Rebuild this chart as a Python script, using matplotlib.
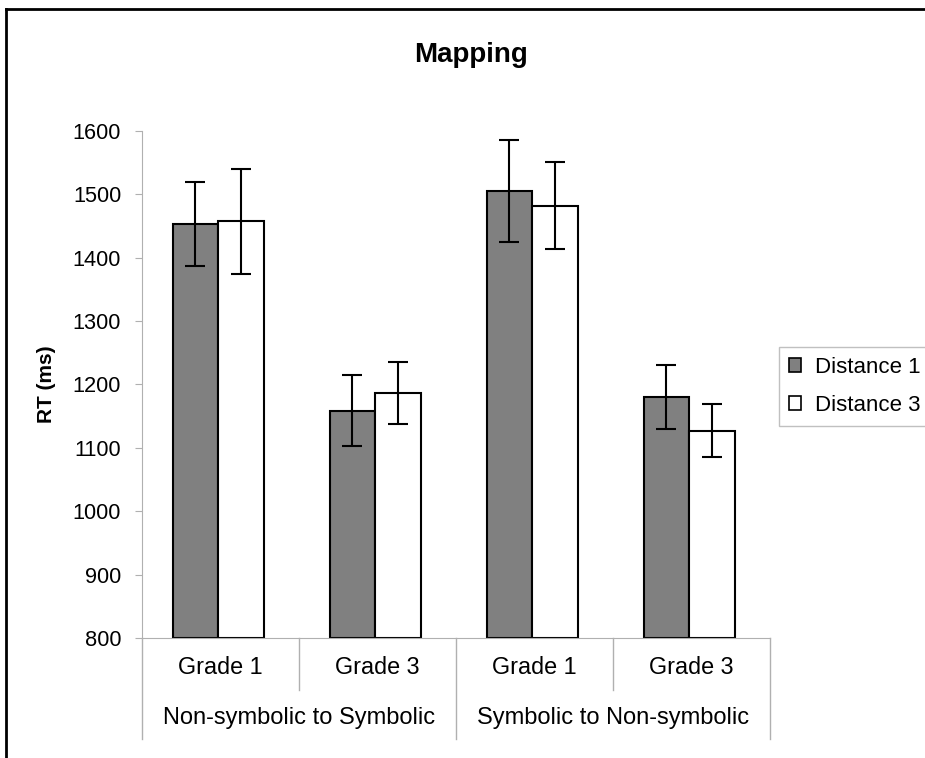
import matplotlib
matplotlib.use("Agg")
import matplotlib.pyplot as plt
from matplotlib.lines import Line2D
from matplotlib.patches import Patch
import numpy as np

plt.rcParams['font.family'] = ['Liberation Sans', 'DejaVu Sans']

# Data
grades = ["Grade 1", "Grade 3", "Grade 1", "Grade 3"]
directions = ["Non-symbolic to Symbolic", "Symbolic to Non-symbolic"]
series_names = ["Distance 1", "Distance 3"]
distance1 = [1453, 1158, 1505, 1180]
distance3 = [1457, 1187, 1482, 1127]
distance1_err = [66, 56, 81, 50]
distance3_err = [83, 49, 68, 42]
yticks = [800, 900, 1000, 1100, 1200, 1300, 1400, 1500, 1600]

W, H = 925, 758
fig = plt.figure(figsize=(W / 100, H / 100), dpi=100)

def fx(px):
    return px / W

def fy(py):
    return 1 - py / H

ax_l, ax_r, ax_b, ax_t = 142, 770, 638, 130.7
ax = fig.add_axes([fx(ax_l), fy(ax_b), fx(ax_r) - fx(ax_l), fy(ax_t) - fy(ax_b)])

x = np.arange(len(grades))
bw = 0.29
off = 0.145
err_kw = dict(ecolor="black", elinewidth=1.5, capsize=7, capthick=1.5)
ax.bar(x - off - 0.015, np.array(distance1) - 800, bw, bottom=800, color="#808080",
       edgecolor="black", linewidth=1.5, yerr=distance1_err, error_kw=err_kw, zorder=2)
ax.bar(x + off - 0.015, np.array(distance3) - 800, bw, bottom=800, color="white",
       edgecolor="black", linewidth=1.5, yerr=distance3_err, error_kw=err_kw, zorder=2)

ax.set_xlim(-0.5, len(grades) - 0.5)
ax.set_ylim(800, 1600)
ax.set_yticks(yticks)
ax.set_yticklabels([str(v) for v in yticks], fontsize=15.7)
ax.tick_params(axis="y", direction="out", length=5, color="#b0b0b0", pad=10)
ax.set_xticks([])
for s in ["top", "right"]:
    ax.spines[s].set_visible(False)
ax.spines["left"].set_color("#b0b0b0")
ax.spines["bottom"].set_color("#b0b0b0")

# Category axis: grade labels, direction labels and divider lines
trans = ax.get_xaxis_transform()
span = ax_b - ax_t

def depth(py):
    return -(py - ax_b) / span

for i, g in enumerate(grades):
    ax.text(i, depth(667), g, transform=trans, ha="center", va="center", fontsize=16.8)
for j, d in enumerate(directions):
    ax.text(2 * j + 0.5, depth(718), d, transform=trans,
            ha="center", va="center", fontsize=17)
for xb in [0.5, 2.5]:
    ax.add_line(Line2D([xb, xb], [0, depth(690)], transform=trans, color="#b0b0b0",
                       linewidth=1, clip_on=False))
for xb in [-0.5, 1.5, 3.5]:
    ax.add_line(Line2D([xb, xb], [0, depth(739)], transform=trans, color="#b0b0b0",
                       linewidth=1, clip_on=False))

ax.set_ylabel("RT (ms)", fontsize=15, fontweight="bold", labelpad=12)
fig.text(fx(471), fy(55), "Mapping", ha="center", va="center",
         fontsize=20, fontweight="bold")

handles = [Patch(facecolor="#808080", edgecolor="black", linewidth=1.2),
           Patch(facecolor="white", edgecolor="black", linewidth=1.2)]
leg = fig.legend(handles, series_names, loc="upper left",
                 bbox_to_anchor=(fx(779), fy(347)), fontsize=16,
                 handlelength=0.55, handleheight=0.55, handletextpad=0.6,
                 labelspacing=0.75, borderpad=0.45, borderaxespad=0,
                 fancybox=False, framealpha=1)
leg.get_frame().set_edgecolor("#c0c0c0")
leg.get_frame().set_linewidth(1)

# Figure frame along the top and left edges
fig.add_artist(Line2D([fx(6), 1], [fy(8.5), fy(8.5)], transform=fig.transFigure,
                      color="black", linewidth=2))
fig.add_artist(Line2D([fx(6), fx(6)], [fy(8.5), 0], transform=fig.transFigure,
                      color="black", linewidth=2))

fig.savefig("out.png", dpi=100, facecolor="white")
